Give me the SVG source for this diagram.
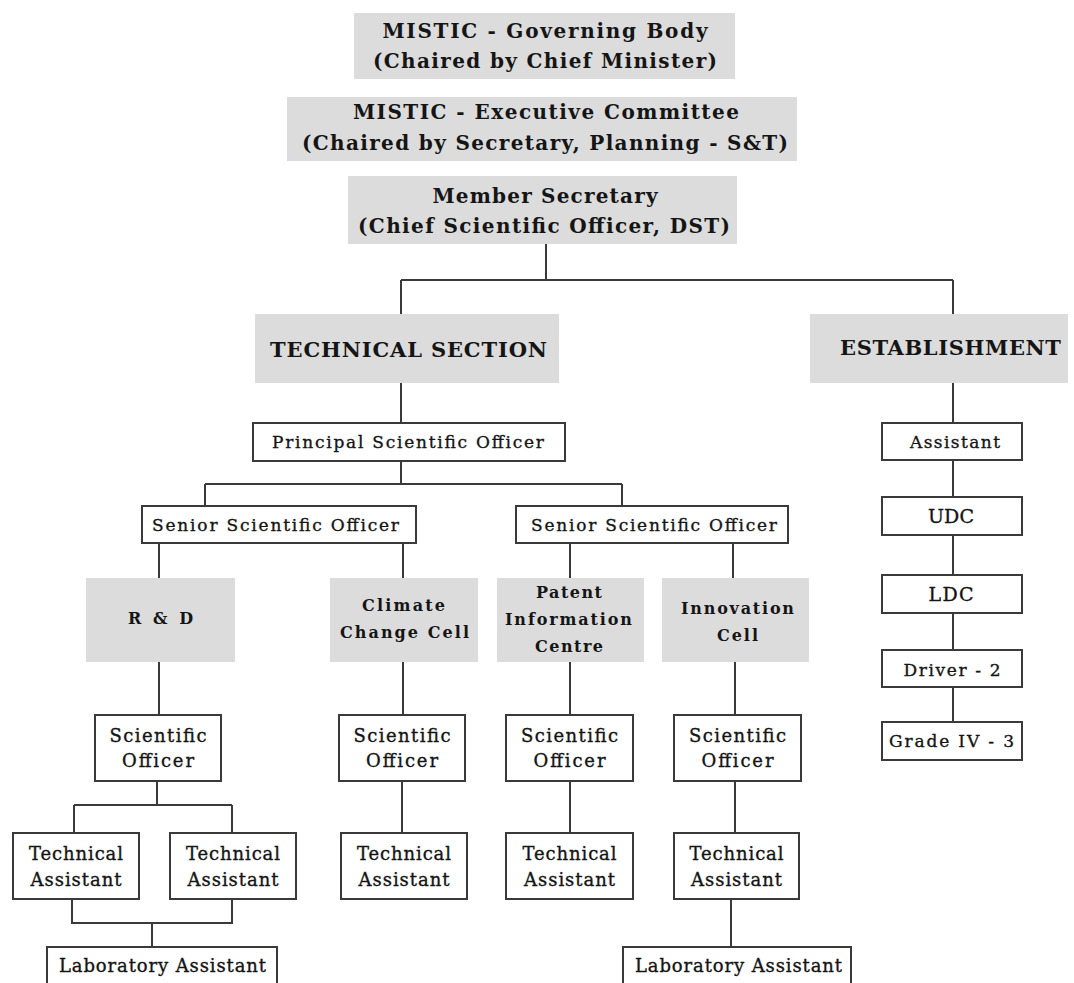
<svg xmlns="http://www.w3.org/2000/svg" width="1074" height="983" viewBox="0 0 1074 983">
<style>
.g{fill:#dcdcdc;stroke:none}
.b{fill:#fff;stroke:#3a3a3a;stroke-width:2}
.c{fill:none;stroke:#3a3a3a;stroke-width:2}
text{font-family:"DejaVu Serif","Liberation Serif",serif;fill:#151515;text-anchor:middle}
.tb{font-weight:bold;font-size:20px}
.th{font-weight:bold;font-size:21px}
.ts{font-weight:bold;font-size:16px}
.tr{font-size:17px;stroke:#151515;stroke-width:0.35}
.tm{font-size:18px;stroke:#151515;stroke-width:0.35}
.tu{font-size:19px;stroke:#151515;stroke-width:0.35}
</style>
<rect width="1074" height="983" fill="#fff"/>
<g id="connectors">
<path class="c" d="M546 244V280M401 280H953M401 280V314M953 280V314"/>
<path class="c" d="M401 383V423M401 461V484M205 484H622M205 484V506M622 484V506"/>
<path class="c" d="M159 543V578M403 543V578M570 543V578M733 543V578"/>
<path class="c" d="M159 662V715M403 662V715M570 662V715M735 662V715"/>
<path class="c" d="M157 781V805M74 805H232M74 805V833M232 805V833"/>
<path class="c" d="M402 781V833M570 781V833M735 781V833"/>
<path class="c" d="M72 899V923H232V899M152 923V947M731 899V947"/>
<path class="c" d="M953 383V423M953 460V497M953 535V575M953 613V650M953 687V722"/>
</g>
<g id="governing-body">
<rect class="g" x="354" y="13" width="381" height="66"/>
<text class="tb" x="545" y="38" textLength="325">MISTIC - Governing Body</text>
<text class="tb" x="545" y="68" textLength="344">(Chaired by Chief Minister)</text>
</g>
<g id="executive-committee">
<rect class="g" x="287" y="97" width="510" height="64"/>
<text class="tb" x="546" y="119" textLength="386">MISTIC - Executive Committee</text>
<text class="tb" x="545" y="150" textLength="486">(Chaired by Secretary, Planning - S&amp;T)</text>
</g>
<g id="member-secretary">
<rect class="g" x="348" y="176" width="389" height="68"/>
<text class="tb" x="545" y="203" textLength="225">Member Secretary</text>
<text class="tb" x="544" y="233" textLength="372">(Chief Scientific Officer, DST)</text>
</g>
<g id="technical-section">
<rect class="g" x="255" y="314" width="304" height="69"/>
<text class="th" x="408.5" y="357" textLength="277">TECHNICAL SECTION</text>
</g>
<g id="establishment">
<rect class="g" x="810" y="314" width="258" height="69"/>
<text class="th" x="950.5" y="355" textLength="221">ESTABLISHMENT</text>
</g>
<g id="principal-scientific-officer">
<rect class="b" x="253" y="423" width="312" height="38"/>
<text class="tr" x="408" y="448" textLength="272">Principal Scientific Officer</text>
</g>
<g id="senior-scientific-officer-1">
<rect class="b" x="142" y="506" width="274" height="37"/>
<text class="tr" x="275.5" y="531" textLength="247">Senior Scientific Officer</text>
</g>
<g id="senior-scientific-officer-2">
<rect class="b" x="516" y="506" width="272" height="37"/>
<text class="tr" x="654" y="531" textLength="246">Senior Scientific Officer</text>
</g>
<g id="r-and-d">
<rect class="g" x="86" y="578" width="149" height="84"/>
<text class="ts" x="160.5" y="624" textLength="65">R &amp; D</text>
</g>
<g id="climate-change-cell">
<rect class="g" x="330" y="578" width="148" height="84"/>
<text class="ts" x="403.5" y="611" textLength="83">Climate</text>
<text class="ts" x="404.5" y="638" textLength="129">Change Cell</text>
</g>
<g id="patent-information-centre">
<rect class="g" x="497" y="578" width="147" height="84"/>
<text class="ts" x="569" y="598" textLength="66">Patent</text>
<text class="ts" x="568.5" y="625" textLength="127">Information</text>
<text class="ts" x="569" y="652" textLength="68">Centre</text>
</g>
<g id="innovation-cell">
<rect class="g" x="662" y="578" width="147" height="84"/>
<text class="ts" x="737.5" y="614" textLength="113">Innovation</text>
<text class="ts" x="737.5" y="641" textLength="41">Cell</text>
</g>
<g id="scientific-officer-rd">
<rect class="b" x="95" y="715" width="126" height="66"/>
<text class="tm" x="158" y="742" textLength="97">Scientific</text>
<text class="tm" x="158" y="767" textLength="72">Officer</text>
</g>
<g id="scientific-officer-climate">
<rect class="b" x="339" y="715" width="126" height="66"/>
<text class="tm" x="402" y="742" textLength="97">Scientific</text>
<text class="tm" x="402" y="767" textLength="72">Officer</text>
</g>
<g id="scientific-officer-patent">
<rect class="b" x="506" y="715" width="127" height="66"/>
<text class="tm" x="569.5" y="742" textLength="97">Scientific</text>
<text class="tm" x="569.5" y="767" textLength="72">Officer</text>
</g>
<g id="scientific-officer-innovation">
<rect class="b" x="674" y="715" width="127" height="66"/>
<text class="tm" x="737.5" y="742" textLength="97">Scientific</text>
<text class="tm" x="737.5" y="767" textLength="72">Officer</text>
</g>
<g id="technical-assistant-rd-1">
<rect class="b" x="13" y="833" width="126" height="66"/>
<text class="tm" x="76" y="860" textLength="94">Technical</text>
<text class="tm" x="76" y="886" textLength="91">Assistant</text>
</g>
<g id="technical-assistant-rd-2">
<rect class="b" x="170" y="833" width="126" height="66"/>
<text class="tm" x="233" y="860" textLength="94">Technical</text>
<text class="tm" x="233" y="886" textLength="91">Assistant</text>
</g>
<g id="technical-assistant-climate">
<rect class="b" x="341" y="833" width="126" height="66"/>
<text class="tm" x="404" y="860" textLength="94">Technical</text>
<text class="tm" x="404" y="886" textLength="91">Assistant</text>
</g>
<g id="technical-assistant-patent">
<rect class="b" x="506" y="833" width="127" height="66"/>
<text class="tm" x="569.5" y="860" textLength="94">Technical</text>
<text class="tm" x="569.5" y="886" textLength="91">Assistant</text>
</g>
<g id="technical-assistant-innovation">
<rect class="b" x="674" y="833" width="125" height="66"/>
<text class="tm" x="736.5" y="860" textLength="94">Technical</text>
<text class="tm" x="736.5" y="886" textLength="91">Assistant</text>
</g>
<g id="laboratory-assistant-rd">
<rect class="b" x="47" y="947" width="230" height="44"/>
<text class="tm" x="162.5" y="972" textLength="207">Laboratory Assistant</text>
</g>
<g id="laboratory-assistant-innovation">
<rect class="b" x="623" y="947" width="228" height="44"/>
<text class="tm" x="738.5" y="972" textLength="207">Laboratory Assistant</text>
</g>
<g id="assistant">
<rect class="b" x="882" y="423" width="140" height="37"/>
<text class="tr" x="955" y="448" textLength="90">Assistant</text>
</g>
<g id="udc">
<rect class="b" x="882" y="497" width="140" height="38"/>
<text class="tu" x="951" y="523" textLength="46">UDC</text>
</g>
<g id="ldc">
<rect class="b" x="882" y="575" width="140" height="38"/>
<text class="tu" x="951" y="601" textLength="45">LDC</text>
</g>
<g id="driver">
<rect class="b" x="882" y="650" width="140" height="37"/>
<text class="tr" x="952" y="676" textLength="97">Driver - 2</text>
</g>
<g id="grade-iv">
<rect class="b" x="882" y="722" width="140" height="38"/>
<text class="tr" x="951.5" y="747" textLength="125">Grade IV - 3</text>
</g>
</svg>
